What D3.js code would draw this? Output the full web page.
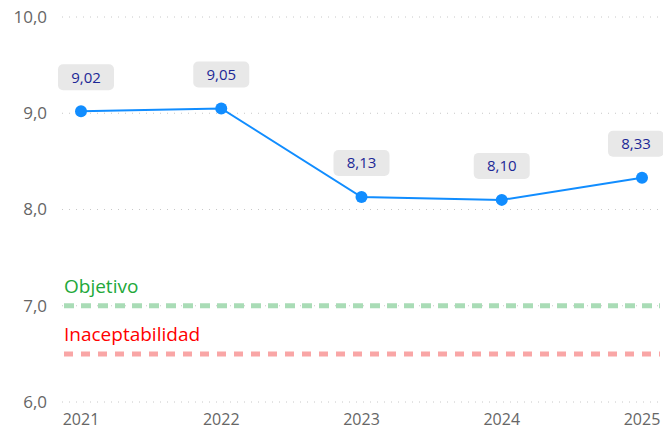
<!DOCTYPE html>
<meta charset="utf-8">
<style>
  body { margin: 0; background: #fff; }
  svg text { font-family: "Open Sans", "Segoe UI", sans-serif; }
  .grid line { stroke: #c8c8c8; stroke-dasharray: 1 6; }
  .axis text { fill: #666; font-size: 17px; }
</style>
<svg width="663" height="430"></svg>
<script src="https://d3js.org/d3.v7.min.js"></script>
<script>

var years = ["2021", "2022", "2023", "2024", "2025"];
var values = [9.02, 9.05, 8.13, 8.10, 8.33];
var yTicks = [6, 7, 8, 9, 10];
var refNames = ["Objetivo", "Inaceptabilidad"];
var refValues = [7.0, 6.5];
var refColors = ["#22a83a", "#ff0000"];
var refLineColors = ["#a9dcb6", "#f9a6a6"];

var svg = d3.select("svg"),
    margin = {top: 17, right: 3, bottom: 28, left: 62},
    width = +svg.attr("width") - margin.left - margin.right,
    height = +svg.attr("height") - margin.top - margin.bottom;

var x = d3.scalePoint().domain(years).range([19, 580]);
var y = d3.scaleLinear().domain([6, 10]).range([385, 0]);

var g = svg.append("g")
    .attr("transform", "translate(" + margin.left + "," + margin.top + ")");

// gridlines
g.append("g").attr("class", "grid")
  .selectAll("line").data(yTicks).enter().append("line")
    .attr("x1", 0).attr("x2", width)
    .attr("y1", function(d) { return y(d); })
    .attr("y2", function(d) { return y(d); });

// y labels
g.append("g").attr("class", "axis")
  .selectAll("text").data(yTicks).enter().append("text")
    .attr("x", -15).attr("y", function(d) { return y(d); })
    .attr("dy", "0.35em").attr("text-anchor", "end")
    .text(function(d) { return d3.format(".1f")(d).replace(".", ","); });

// x labels
g.append("g").attr("class", "axis")
  .selectAll("text").data(years).enter().append("text")
    .attr("x", function(d) { return x(d); })
    .attr("y", 402).attr("dy", "0.35em").attr("text-anchor", "middle")
    .style("font-size", "16px")
    .text(function(d) { return d; });

// reference lines
refValues.forEach(function(v, i) {
  g.append("line")
    .attr("x1", 2).attr("x2", width)
    .attr("y1", y(v)).attr("y2", y(v))
    .attr("stroke", refLineColors[i])
    .attr("stroke-width", 5)
    .attr("stroke-dasharray", i === 0 ? "10 7" : "9 8");
  g.append("text")
    .attr("x", 2).attr("y", y(v) - 13)
    .attr("fill", refColors[i])
    .style("font-size", "19px")
    .text(refNames[i]);
});

// series line
var line = d3.line()
    .x(function(d, i) { return x(years[i]); })
    .y(function(d) { return y(d); });

g.append("path").datum(values)
    .attr("fill", "none").attr("stroke", "#118dff").attr("stroke-width", 2)
    .attr("d", line);

g.selectAll(".dot").data(values).enter().append("circle")
    .attr("class", "dot")
    .attr("cx", function(d, i) { return x(years[i]); })
    .attr("cy", function(d) { return y(d); })
    .attr("r", 6)
    .attr("fill", "#118dff");

// data labels
var lab = g.selectAll(".lab").data(values).enter().append("g")
    .attr("class", "lab")
    .attr("transform", function(d, i) {
      var cx = x(years[i]);
      if (i === 0) cx += 5;
      if (i === years.length - 1) cx = width - 24;
      return "translate(" + cx + "," + (y(d) - 34) + ")";
    });

lab.append("rect")
    .attr("x", -28).attr("y", -13).attr("width", 56).attr("height", 26)
    .attr("rx", 5).attr("fill", "#e8e8e8");

lab.append("text")
    .attr("text-anchor", "middle").attr("dy", "0.35em")
    .attr("fill", "#1c2796").style("font-size", "15px")
    .text(function(d) { return d3.format(".2f")(d).replace(".", ","); });

</script>
